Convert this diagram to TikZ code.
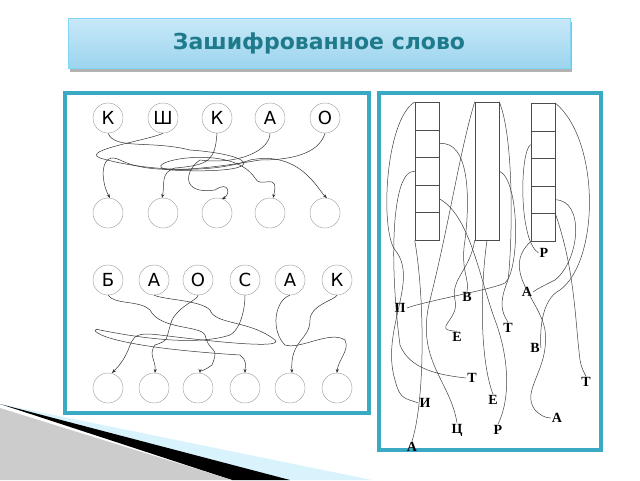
\documentclass[tikz,border=0pt]{standalone}
\usepackage{fontspec}
\setmainfont{Liberation Serif}
\setsansfont{DejaVu Sans}
\usetikzlibrary{positioning}
\usetikzlibrary{arrows.meta}
\definecolor{frameblue}{HTML}{3AA9C4}
\definecolor{titletext}{HTML}{1F7A8C}
\definecolor{titletop}{HTML}{C8E9F8}
\definecolor{titlebot}{HTML}{9CD4EE}
\tikzset{
  letter/.style={circle,draw=gray!80,minimum size=30pt,inner sep=0pt,font=\sffamily\fontsize{18}{18}\selectfont},
  empty/.style={circle,draw=gray!80,minimum size=30pt,inner sep=0pt},
  wire/.style={draw=black!80,line width=0.5pt,-{Stealth[length=4pt,width=3pt]}},
  thread/.style={draw=black!75,line width=0.5pt},
  cell/.style={draw=black!70,minimum width=24pt,minimum height=27.6pt,inner sep=0pt,line width=0.5pt},
  clue/.style={font=\bfseries\fontsize{14}{14}\selectfont,inner sep=1pt}
}
\begin{document}
\begin{tikzpicture}[x=1pt,y=-1pt]

            \useasboundingbox (0,0) rectangle (640,480);

            % title
            \fill[gray!60] (70,22) rectangle (572,72);
            \shade[top color=titletop,bottom color=titlebot,draw=cyan!50] (68,18) rectangle (570,68);
            \node (title) at (319,43) {\sffamily\bfseries\color{titletext}\fontsize{22}{22}\selectfont Зашифрованное слово};

            % corner swoosh
            \fill[cyan!15] (0,404) -- (372,480) -- (240,480) -- cycle;
            \fill[black] (0,404) -- (290,480) -- (232,480) -- cycle;
            \fill[gray!40] (0,408) -- (232,480) -- (0,480) -- cycle;

            % panels
            \draw[frameblue,line width=3.5pt,fill=white] (65,93) rectangle (369,413);
            \draw[frameblue,line width=3.5pt,fill=white] (379,93) rectangle (601,450);

            % left panel, first word
            \path   (108,118) node (k1) [letter] {К}
                    (163,118) node (sh) [letter] {Ш}
                    (217,118) node (k2) [letter] {К}
                    (270,118) node (a1) [letter] {А}
                    (325,118) node (o1) [letter] {О};
            \foreach \x [count=\i] in {108,163,217,270,325}
                \node (u\i) [empty] at (\x,213) {};

            \draw[wire] (k1.south) .. controls (115,150) and (150,140) .. (190,150)
                        .. controls (260,155) and (270,175) .. (170,170)
                        .. controls (130,165) and (230,140) .. (255,178)
                        .. controls (260,190) and (280,170) .. (273,198);
            \draw[wire] (sh.south) .. controls (150,140) and (80,150) .. (100,158)
                        .. controls (140,170) and (210,175) .. (250,160)
                        .. controls (300,150) and (318,190) .. (327,198);
            \draw[wire] (k2.south) .. controls (215,160) and (210,165) .. (175,168)
                        .. controls (160,172) and (165,185) .. (162,198);
            \draw[wire] (a1.south) .. controls (270,150) and (240,165) .. (200,160)
                        .. controls (185,170) and (180,195) .. (215,190)
                        .. controls (230,180) and (230,195) .. (222,199);
            \draw[wire] (o1.south) .. controls (320,150) and (300,160) .. (260,160)
                        .. controls (200,170) and (150,175) .. (120,160)
                        .. controls (100,150) and (100,180) .. (110,198);

            % left panel, second word
            \path   (108,280) node (b2) [letter] {Б}
                    (154,280) node (a2) [letter] {А}
                    (198,280) node (o2) [letter] {О}
                    (245,280) node (s2) [letter] {С}
                    (290,280) node (a3) [letter] {А}
                    (337,280) node (k3) [letter] {К};
            \foreach \x [count=\i] in {108,154,198,245,290,337}
                \node (w\i) [empty] at (\x,388) {};

            \draw[wire] (b2.south) .. controls (115,305) and (140,300) .. (150,310)
                        .. controls (160,330) and (200,325) .. (205,335)
                        .. controls (210,355) and (220,345) .. (212,365)
                        .. controls (205,370) and (200,372) .. (200,373);
            \draw[wire] (a2.south) .. controls (165,300) and (200,300) .. (210,310)
                        .. controls (215,325) and (250,320) .. (275,340)
                        .. controls (285,350) and (200,340) .. (160,335)
                        .. controls (120,330) and (140,345) .. (112,373);
            \draw[wire] (o2.south) .. controls (198,300) and (180,305) .. (172,320)
                        .. controls (165,340) and (170,340) .. (155,345)
                        .. controls (148,355) and (156,360) .. (155,373);
            \draw[wire] (s2.south) .. controls (245,310) and (240,330) .. (230,335)
                        .. controls (200,345) and (150,340) .. (100,330)
                        .. controls (90,325) and (80,345) .. (240,355)
                        .. controls (248,362) and (245,365) .. (245,373);
            \draw[wire] (a3.south) .. controls (275,300) and (270,330) .. (285,345)
                        .. controls (300,350) and (330,330) .. (345,340)
                        .. controls (350,350) and (338,360) .. (337,373);
            \draw[wire] (k3.south) .. controls (335,300) and (310,305) .. (310,320)
                        .. controls (310,340) and (290,340) .. (292,373);

            % right panel, strips
            \foreach \c [count=\i] in {1,...,5} {
                \node (p\i) [cell] at (427,116+27.6*\c-27.6) {};
                \node (r\i) [cell] at (543,117+27.6*\c-27.6) {};
            }
            \node (q) [cell,minimum height=138pt] at (487,171) {};

            % right panel, letters
            \path   (544,253) node (lr1) [clue] {Р}
                    (527,292) node (la1) [clue] {А}
                    (467,297) node (lv1) [clue] {В}
                    (400,308) node (lp)  [clue] {П}
                    (508,328) node (lt1) [clue] {Т}
                    (457,337) node (le1) [clue] {Е}
                    (535,348) node (lv2) [clue] {В}
                    (472,378) node (lt2) [clue] {Т}
                    (586,382) node (lt3) [clue] {Т}
                    (425,403) node (li)  [clue] {И}
                    (493,400) node (le2) [clue] {Е}
                    (557,418) node (la2) [clue] {А}
                    (457,430) node (lc)  [clue] {Ц}
                    (498,430) node (lr2) [clue] {Р}
                    (412,447) node (la3) [clue] {А};

            % threads
            \draw[thread] (p1.north west) .. controls (385,120) and (380,230) .. (395,250)
                          .. controls (420,280) and (380,330) .. (395,380) .. controls (400,400) and (405,398) .. (li.west);
            \draw[thread] (p2.east) .. controls (470,140) and (470,200) .. (465,240)
                          .. controls (460,270) and (470,280) .. (lv1.north);
            \draw[thread] (p3.west) .. controls (390,170) and (390,270) .. (400,345)
                          .. controls (410,370) and (440,375) .. (lt2.west);
            \draw[thread] (p4.east) .. controls (470,215) and (480,280) .. (495,320)
                          .. controls (510,360) and (510,400) .. (lr2.north);
            \draw[thread] (p5.south west) .. controls (425,300) and (425,400) .. (la3.north);
            \draw[thread] (q.north west) .. controls (460,150) and (450,220) .. (430,300)
                          .. controls (415,360) and (450,380) .. (lc.north);
            \draw[thread] (q.north east) .. controls (515,140) and (512,250) .. (508,280)
                          .. controls (500,300) and (500,310) .. (lt1.north);
            \draw[thread] (q.east) .. controls (520,180) and (520,270) .. (505,283)
                          .. controls (490,290) and (430,300) .. (lp.east);
            \draw[thread] (q.south west) .. controls (470,270) and (450,280) .. (455,300)
                          .. controls (460,320) and (430,330) .. (le1.north);
            \draw[thread] (q.south) .. controls (480,290) and (480,360) .. (le2.north);
            \draw[thread] (r1.north east) .. controls (600,140) and (600,260) .. (560,290)
                          .. controls (540,300) and (540,335) .. (lv2.east);
            \draw[thread] (r2.west) .. controls (520,150) and (518,240) .. (lr1.west);
            \draw[thread] (r4.east) .. controls (585,200) and (580,260) .. (555,280)
                          .. controls (545,285) and (535,290) .. (la1.east);
            \draw[thread] (r5.north east) .. controls (575,270) and (575,320) .. (580,360)
                          .. controls (582,370) and (584,372) .. (lt3.north);
            \draw[thread] (r5.south west) .. controls (500,270) and (540,300) .. (545,330)
                          .. controls (550,370) and (520,390) .. (535,410) .. controls (540,415) and (545,418) .. (la2.west);

\end{tikzpicture}
\end{document}
